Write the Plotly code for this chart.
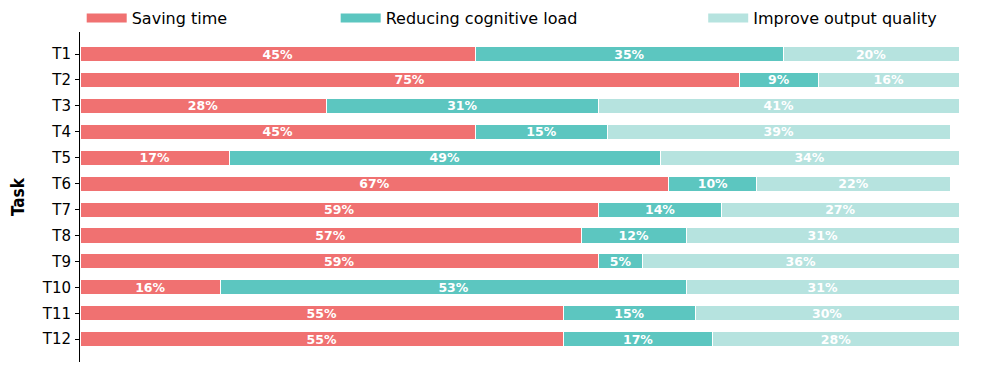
import plotly.graph_objects as go

tasks = ["T1", "T2", "T3", "T4", "T5", "T6", "T7", "T8", "T9", "T10", "T11", "T12"]
saving_time = [45, 75, 28, 45, 17, 67, 59, 57, 59, 16, 55, 55]
cognitive_load = [35, 9, 31, 15, 49, 10, 14, 12, 5, 53, 15, 17]
output_quality = [20, 16, 41, 39, 34, 22, 27, 31, 36, 31, 30, 28]

series = [
    ("Saving time", saving_time, "#F07171", "legend", 0.074),
    ("Reducing cognitive load", cognitive_load, "#5CC6C0", "legend2", 0.329),
    ("Improve output quality", output_quality, "#B6E3DF", "legend3", 0.698),
]

fig = go.Figure()
for name, vals, color, leg, lx in series:
    fig.add_trace(go.Bar(
        y=tasks, x=vals, orientation="h", name=name,
        marker=dict(color=color, line=dict(color="white", width=1)),
        text=[f"{v}%" for v in vals], textposition="inside",
        insidetextanchor="middle", textangle=0, constraintext="none",
        textfont=dict(color="white", size=12.5, family="DejaVu Sans", weight="bold"),
        showlegend=False,
    ))
    # legend entry drawn as a thick line so the key looks like a wide bar
    fig.add_trace(go.Scatter(
        x=[None], y=[None], mode="lines", name=name, legend=leg,
        line=dict(color=color, width=9),
    ))
    fig.update_layout({leg: dict(
        orientation="h", xref="container", x=lx, xanchor="left",
        yref="paper", y=1.0424, yanchor="middle",
        font=dict(size=16), itemwidth=40, bgcolor="rgba(0,0,0,0)",
    )})

# the page body adds an 8px offset, so margins are shifted to compensate
fig.update_layout(
    barmode="stack",
    bargap=0.42,
    width=996, height=367,
    margin=dict(l=72, r=45, t=24, b=13, autoexpand=False),
    plot_bgcolor="white", paper_bgcolor="white",
    font=dict(family="DejaVu Sans", color="black"),
)
fig.add_annotation(
    text="Task", textangle=-90, showarrow=False,
    xref="paper", x=0, xshift=-62, xanchor="center",
    yref="paper", y=0.5, yanchor="middle",
    font=dict(size=17, weight="bold", family="DejaVu Sans Condensed"),
)
fig.update_xaxes(range=[0, 100], visible=False, showgrid=False)
fig.update_yaxes(
    range=[11.88, -0.85], showline=True, linecolor="black", linewidth=1,
    ticks="outside", ticklen=4, tickcolor="black", showgrid=False,
    tickfont=dict(size=15), ticklabelstandoff=1, automargin=False,
)

fig.write_html("out.html")
